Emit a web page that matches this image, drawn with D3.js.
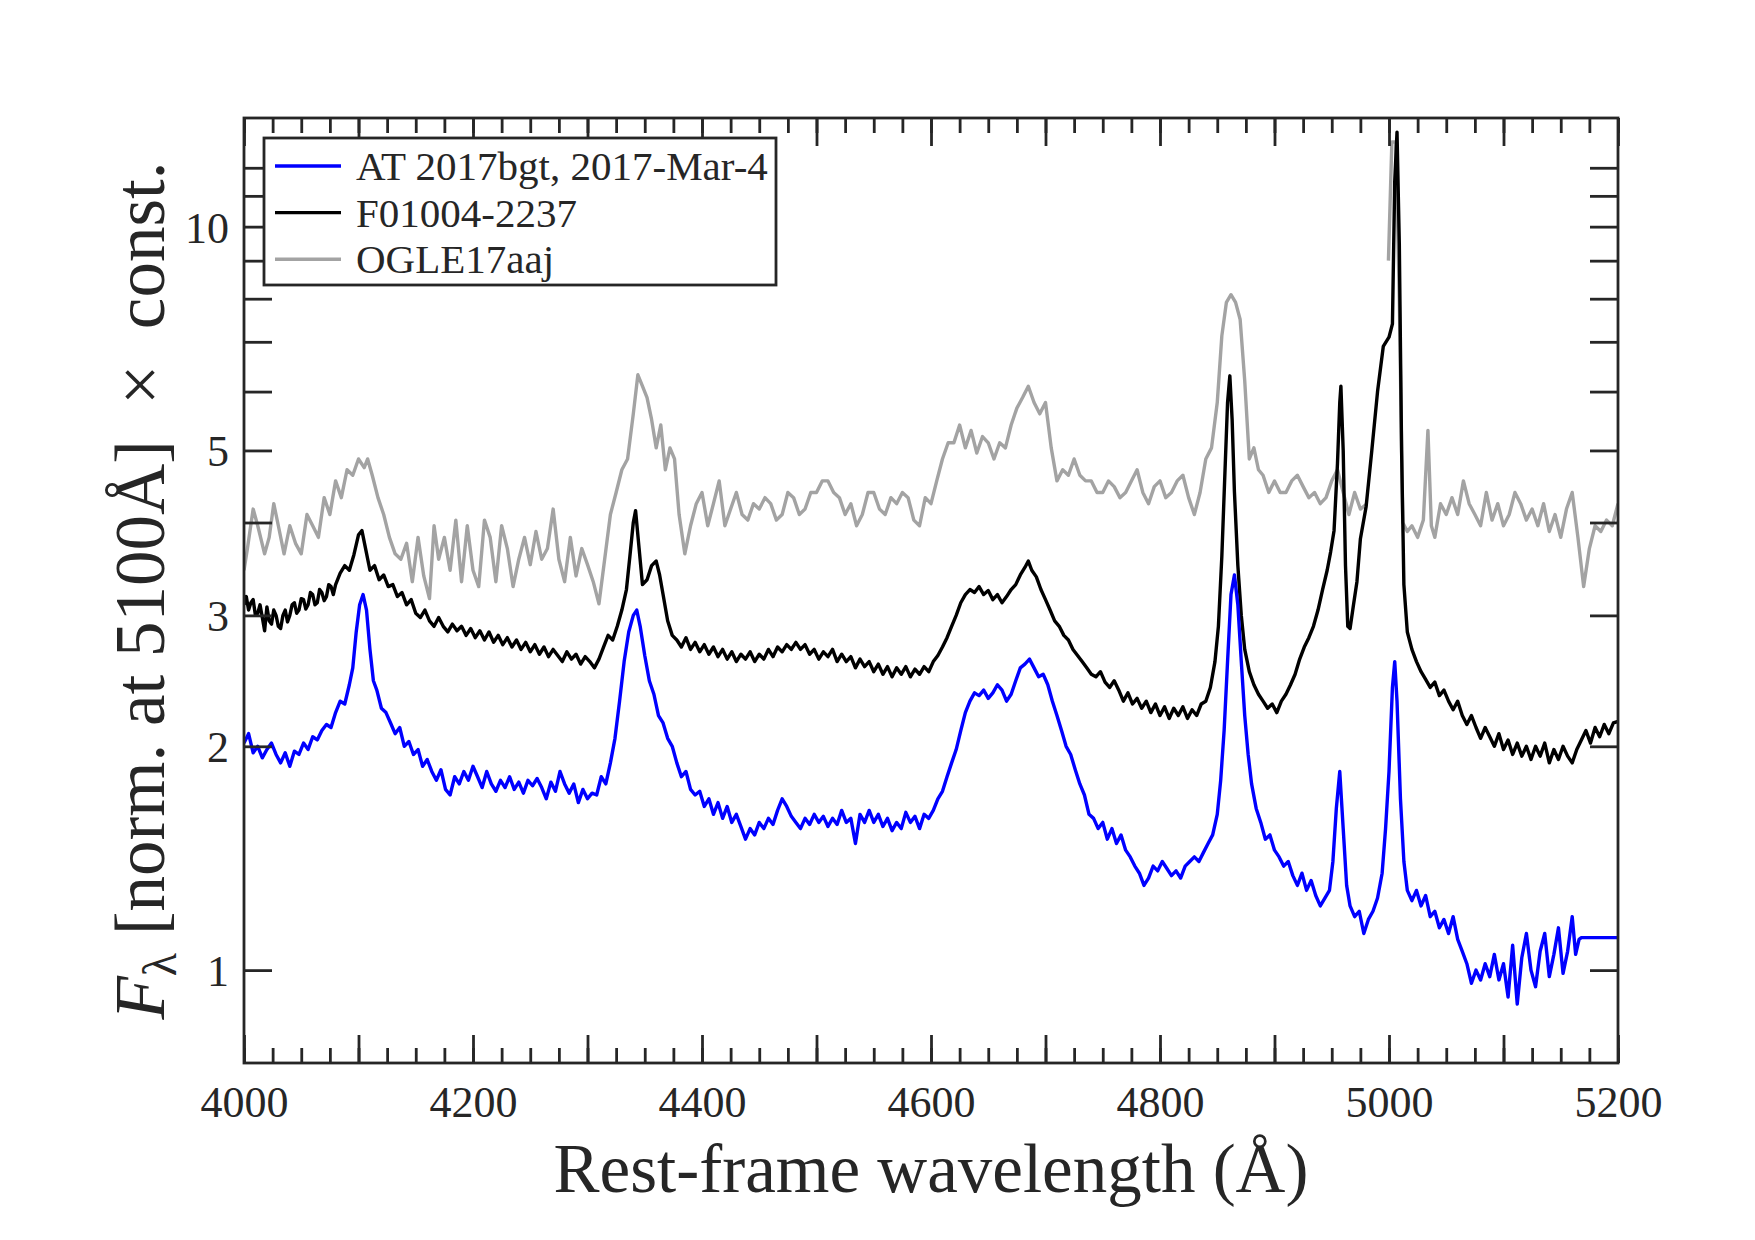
<!DOCTYPE html>
<html>
<head>
<meta charset="utf-8">
<script src="https://cdn.jsdelivr.net/npm/d3@7"></script>
<style>
  body { margin: 0; background: #fff; }
  svg text { font-family: "Liberation Serif", "Times New Roman", serif; fill: #262626; }
</style>
</head>
<body>
<div id="chart"></div>
<script>
// legend names, in plotting order of the legend
var seriesNames = ["AT 2017bgt, 2017-Mar-4", "F01004-2237", "OGLE17aaj"];

// x ticks
var xMinorTicks = d3.range(4000, 5201, 25);
var xMajorTicks = d3.range(4000, 5201, 100);
var xTickLabels = [4000, 4200, 4400, 4600, 4800, 5000, 5200];

// y ticks (log axis)
var yTicks = [1, 2, 3, 4, 5, 6, 7, 8, 9, 10, 11, 12];
var yTickLabels = [1, 2, 3, 5, 10];

// AT 2017bgt spectrum [wavelength, flux]
var atSpec = [[4000,2.02],[4004,2.08],[4008,1.96],[4012,2.0],[4016,1.93],[4020,1.98],[4024,2.02],[4028,1.95],[4032,1.9],[4036,1.96],[4040,1.88],[4044,1.97],[4048,1.95],[4052,2.02],[4056,1.98],[4060,2.06],[4064,2.04],[4068,2.1],[4072,2.14],[4076,2.12],[4080,2.22],[4084,2.3],[4088,2.28],[4092,2.42],[4095,2.55],[4098,2.85],[4101,3.1],[4104,3.2],[4107,3.05],[4110,2.7],[4113,2.45],[4116,2.38],[4120,2.25],[4124,2.22],[4128,2.15],[4132,2.08],[4136,2.12],[4140,2.0],[4144,2.03],[4148,1.95],[4152,1.98],[4156,1.88],[4160,1.92],[4164,1.85],[4168,1.8],[4172,1.86],[4176,1.75],[4180,1.72],[4184,1.82],[4188,1.78],[4192,1.85],[4196,1.8],[4200,1.88],[4204,1.82],[4208,1.76],[4212,1.85],[4216,1.78],[4220,1.74],[4224,1.8],[4228,1.76],[4232,1.82],[4236,1.75],[4240,1.79],[4244,1.73],[4248,1.8],[4252,1.77],[4256,1.81],[4260,1.76],[4264,1.7],[4268,1.79],[4272,1.74],[4276,1.85],[4280,1.78],[4284,1.73],[4288,1.78],[4292,1.68],[4296,1.75],[4300,1.7],[4304,1.73],[4308,1.72],[4312,1.82],[4316,1.78],[4320,1.9],[4324,2.05],[4328,2.3],[4332,2.6],[4336,2.85],[4340,3.0],[4343,3.05],[4346,2.9],[4350,2.65],[4354,2.45],[4358,2.35],[4362,2.2],[4366,2.15],[4370,2.05],[4374,2.0],[4378,1.9],[4382,1.82],[4386,1.85],[4390,1.75],[4394,1.72],[4398,1.74],[4402,1.66],[4406,1.7],[4410,1.62],[4414,1.68],[4418,1.6],[4422,1.66],[4426,1.58],[4430,1.62],[4434,1.56],[4438,1.5],[4442,1.55],[4446,1.52],[4450,1.58],[4454,1.55],[4458,1.6],[4462,1.57],[4466,1.64],[4470,1.7],[4474,1.66],[4478,1.61],[4482,1.58],[4486,1.55],[4490,1.6],[4494,1.57],[4498,1.62],[4502,1.58],[4506,1.61],[4510,1.56],[4514,1.6],[4518,1.57],[4522,1.64],[4526,1.58],[4530,1.6],[4534,1.48],[4538,1.62],[4542,1.58],[4546,1.64],[4550,1.58],[4554,1.62],[4558,1.56],[4562,1.6],[4566,1.54],[4570,1.58],[4574,1.55],[4578,1.63],[4582,1.58],[4586,1.61],[4590,1.55],[4594,1.62],[4598,1.6],[4602,1.64],[4606,1.7],[4610,1.74],[4614,1.82],[4618,1.9],[4622,1.98],[4626,2.1],[4630,2.22],[4634,2.3],[4638,2.36],[4642,2.34],[4646,2.38],[4650,2.32],[4654,2.36],[4658,2.42],[4662,2.38],[4666,2.3],[4670,2.35],[4674,2.45],[4678,2.55],[4682,2.58],[4686,2.62],[4690,2.55],[4694,2.48],[4698,2.5],[4702,2.42],[4706,2.3],[4710,2.2],[4714,2.1],[4718,2.0],[4722,1.95],[4726,1.86],[4730,1.78],[4734,1.72],[4738,1.62],[4742,1.6],[4746,1.55],[4750,1.58],[4754,1.5],[4758,1.55],[4762,1.48],[4766,1.52],[4770,1.45],[4774,1.42],[4778,1.38],[4782,1.35],[4786,1.3],[4790,1.33],[4794,1.38],[4798,1.36],[4802,1.4],[4806,1.37],[4810,1.34],[4814,1.36],[4818,1.33],[4822,1.38],[4826,1.4],[4830,1.42],[4834,1.4],[4838,1.44],[4842,1.48],[4846,1.52],[4850,1.62],[4853,1.8],[4856,2.1],[4859,2.6],[4862,3.2],[4865,3.4],[4868,3.1],[4871,2.6],[4874,2.2],[4877,1.95],[4880,1.78],[4884,1.65],[4888,1.58],[4892,1.5],[4896,1.52],[4900,1.45],[4904,1.42],[4908,1.38],[4912,1.4],[4916,1.34],[4920,1.3],[4924,1.35],[4928,1.28],[4932,1.32],[4936,1.26],[4940,1.22],[4944,1.25],[4948,1.28],[4951,1.4],[4954,1.65],[4957,1.85],[4960,1.55],[4963,1.3],[4966,1.22],[4970,1.18],[4974,1.2],[4978,1.12],[4982,1.17],[4986,1.2],[4990,1.25],[4994,1.35],[4997,1.55],[5000,1.85],[5003,2.4],[5005,2.6],[5007,2.3],[5010,1.7],[5013,1.4],[5016,1.28],[5020,1.24],[5024,1.28],[5028,1.22],[5032,1.26],[5036,1.18],[5040,1.2],[5044,1.14],[5048,1.17],[5052,1.12],[5056,1.18],[5060,1.1],[5064,1.06],[5068,1.02],[5072,0.96],[5076,1.0],[5080,0.97],[5084,1.02],[5088,0.98],[5092,1.05],[5096,0.97],[5100,1.02],[5104,0.92],[5108,1.08],[5112,0.9],[5116,1.04],[5120,1.12],[5124,1.0],[5128,0.95],[5132,1.06],[5136,1.12],[5140,0.98],[5144,1.05],[5148,1.14],[5152,0.99],[5156,1.06],[5160,1.18],[5163,1.05],[5166,1.1],[5168,1.106],[5200,1.106]];

// F01004-2237 spectrum
var fSpec = [[4000,3.1],[4002,3.18],[4004,3.05],[4006,3.12],[4008,3.15],[4010,3.0],[4012,3.02],[4014,3.1],[4016,2.98],[4018,2.86],[4020,3.08],[4022,2.95],[4024,2.92],[4026,3.05],[4028,3.0],[4030,2.9],[4032,2.88],[4034,3.0],[4036,3.05],[4038,2.94],[4040,3.0],[4042,3.1],[4044,3.12],[4046,3.02],[4048,3.05],[4050,3.16],[4052,3.15],[4054,3.06],[4056,3.1],[4058,3.22],[4060,3.2],[4062,3.1],[4064,3.12],[4066,3.25],[4068,3.22],[4070,3.14],[4072,3.18],[4074,3.3],[4076,3.28],[4078,3.2],[4080,3.3],[4084,3.42],[4088,3.5],[4092,3.45],[4096,3.62],[4100,3.85],[4103,3.9],[4106,3.7],[4110,3.45],[4114,3.5],[4118,3.35],[4122,3.4],[4126,3.28],[4130,3.3],[4134,3.18],[4138,3.22],[4142,3.1],[4146,3.15],[4150,3.02],[4154,2.98],[4158,3.05],[4162,2.95],[4166,2.9],[4170,2.98],[4174,2.9],[4178,2.85],[4182,2.92],[4186,2.86],[4190,2.9],[4194,2.82],[4198,2.88],[4202,2.8],[4206,2.86],[4210,2.78],[4214,2.85],[4218,2.76],[4222,2.82],[4226,2.74],[4230,2.8],[4234,2.72],[4238,2.78],[4242,2.7],[4246,2.76],[4250,2.68],[4254,2.74],[4258,2.66],[4262,2.72],[4266,2.64],[4270,2.7],[4274,2.65],[4278,2.6],[4282,2.68],[4286,2.62],[4290,2.66],[4294,2.58],[4298,2.64],[4302,2.6],[4306,2.55],[4310,2.62],[4314,2.72],[4318,2.82],[4322,2.78],[4326,2.9],[4330,3.05],[4334,3.25],[4337,3.6],[4340,4.0],[4342,4.15],[4345,3.7],[4348,3.3],[4352,3.35],[4356,3.5],[4360,3.55],[4363,3.4],[4366,3.2],[4370,2.95],[4374,2.82],[4378,2.78],[4382,2.72],[4386,2.8],[4390,2.7],[4394,2.76],[4398,2.68],[4402,2.74],[4406,2.66],[4410,2.72],[4414,2.64],[4418,2.7],[4422,2.62],[4426,2.68],[4430,2.6],[4434,2.66],[4438,2.62],[4442,2.68],[4446,2.6],[4450,2.66],[4454,2.62],[4458,2.7],[4462,2.64],[4466,2.72],[4470,2.68],[4474,2.74],[4478,2.7],[4482,2.76],[4486,2.7],[4490,2.74],[4494,2.66],[4498,2.7],[4502,2.62],[4506,2.68],[4510,2.64],[4514,2.7],[4518,2.6],[4522,2.66],[4526,2.6],[4530,2.64],[4534,2.55],[4538,2.62],[4542,2.56],[4546,2.6],[4550,2.52],[4554,2.58],[4558,2.5],[4562,2.56],[4566,2.48],[4570,2.55],[4574,2.5],[4578,2.56],[4582,2.48],[4586,2.54],[4590,2.5],[4594,2.56],[4598,2.52],[4602,2.6],[4606,2.65],[4610,2.72],[4614,2.8],[4618,2.9],[4622,3.0],[4626,3.12],[4630,3.2],[4634,3.25],[4638,3.22],[4642,3.28],[4646,3.2],[4650,3.24],[4654,3.15],[4658,3.2],[4662,3.12],[4666,3.18],[4670,3.25],[4674,3.3],[4678,3.4],[4682,3.48],[4685,3.55],[4688,3.45],[4692,3.38],[4696,3.25],[4700,3.15],[4704,3.05],[4708,2.95],[4712,2.9],[4716,2.82],[4720,2.78],[4724,2.7],[4728,2.65],[4732,2.6],[4736,2.55],[4740,2.5],[4744,2.48],[4748,2.52],[4752,2.44],[4756,2.4],[4760,2.45],[4764,2.38],[4768,2.3],[4772,2.36],[4776,2.28],[4780,2.32],[4784,2.25],[4788,2.3],[4792,2.22],[4796,2.28],[4800,2.2],[4804,2.26],[4808,2.18],[4812,2.25],[4816,2.2],[4820,2.26],[4824,2.18],[4828,2.24],[4832,2.2],[4836,2.28],[4840,2.3],[4844,2.4],[4848,2.6],[4851,2.9],[4854,3.6],[4857,4.8],[4859,5.8],[4861,6.3],[4863,5.5],[4865,4.4],[4868,3.5],[4871,3.0],[4874,2.7],[4878,2.52],[4882,2.42],[4886,2.35],[4890,2.3],[4894,2.25],[4898,2.28],[4902,2.22],[4906,2.3],[4910,2.35],[4914,2.42],[4918,2.5],[4922,2.62],[4926,2.72],[4930,2.8],[4934,2.9],[4938,3.05],[4942,3.25],[4946,3.45],[4949,3.65],[4952,3.9],[4955,4.8],[4957,5.8],[4958,6.1],[4960,5.0],[4962,3.5],[4964,2.9],[4966,2.88],[4969,3.1],[4972,3.33],[4975,3.8],[4980,4.2],[4985,5.0],[4990,6.0],[4995,6.9],[5000,7.1],[5003,7.4],[5005,11.5],[5007,13.4],[5009,9.5],[5011,5.0],[5013,3.3],[5016,2.85],[5020,2.7],[5024,2.6],[5028,2.52],[5032,2.46],[5036,2.4],[5040,2.44],[5044,2.34],[5048,2.38],[5052,2.3],[5056,2.24],[5060,2.3],[5064,2.2],[5068,2.14],[5072,2.2],[5076,2.12],[5080,2.05],[5084,2.12],[5088,2.06],[5092,2.0],[5096,2.08],[5100,1.98],[5104,2.04],[5108,1.95],[5112,2.02],[5116,1.94],[5120,2.0],[5124,1.92],[5128,2.0],[5132,1.94],[5136,2.02],[5140,1.9],[5144,1.98],[5148,1.92],[5152,2.0],[5156,1.94],[5160,1.9],[5164,1.98],[5168,2.04],[5172,2.1],[5176,2.02],[5180,2.12],[5184,2.06],[5188,2.14],[5192,2.08],[5196,2.15],[5200,2.16]];

// OGLE17aaj spectrum (null = gap)
var ogleSpec = [[4000,3.45],[4003,3.69],[4008,4.17],[4012,3.96],[4018,3.63],[4022,3.82],[4026,4.24],[4030,3.96],[4035,3.63],[4040,3.96],[4045,3.75],[4050,3.63],[4055,4.1],[4060,3.96],[4065,3.82],[4070,4.32],[4075,4.1],[4080,4.55],[4085,4.32],[4090,4.71],[4095,4.63],[4100,4.87],[4105,4.74],[4108,4.87],[4112,4.63],[4117,4.32],[4122,4.1],[4127,3.82],[4132,3.63],[4137,3.57],[4142,3.75],[4147,3.33],[4152,3.82],[4157,3.39],[4162,3.16],[4166,3.96],[4170,3.57],[4175,3.82],[4180,3.45],[4185,4.03],[4190,3.33],[4195,3.96],[4200,3.45],[4205,3.28],[4210,4.03],[4215,3.82],[4220,3.33],[4225,3.96],[4230,3.69],[4235,3.28],[4240,3.57],[4245,3.82],[4250,3.51],[4255,3.89],[4260,3.57],[4265,3.69],[4270,4.17],[4275,3.57],[4280,3.33],[4285,3.82],[4290,3.39],[4295,3.69],[4300,3.51],[4305,3.33],[4310,3.11],[4315,3.57],[4320,4.1],[4325,4.39],[4330,4.71],[4335,4.87],[4340,5.6],[4344,6.32],[4348,6.1],[4352,5.89],[4356,5.5],[4360,5.04],[4364,5.41],[4368,4.71],[4372,5.04],[4376,4.87],[4380,4.1],[4385,3.63],[4390,3.96],[4395,4.24],[4400,4.39],[4405,3.96],[4410,4.24],[4415,4.55],[4420,3.96],[4425,4.17],[4430,4.39],[4435,4.1],[4440,4.03],[4445,4.24],[4450,4.17],[4455,4.32],[4460,4.24],[4465,4.03],[4470,4.1],[4475,4.39],[4480,4.32],[4485,4.1],[4490,4.17],[4495,4.39],[4500,4.39],[4505,4.55],[4510,4.55],[4515,4.39],[4520,4.32],[4525,4.1],[4530,4.24],[4535,3.96],[4540,4.1],[4545,4.39],[4550,4.39],[4555,4.17],[4560,4.1],[4565,4.32],[4570,4.24],[4575,4.39],[4580,4.32],[4585,4.03],[4590,3.96],[4595,4.32],[4600,4.24],[4605,4.55],[4610,4.87],[4615,5.12],[4620,5.12],[4625,5.41],[4630,5.04],[4635,5.32],[4640,4.96],[4645,5.22],[4650,5.12],[4655,4.87],[4660,5.12],[4665,5.04],[4670,5.41],[4675,5.7],[4680,5.89],[4685,6.1],[4690,5.8],[4695,5.6],[4700,5.8],[4705,5.04],[4710,4.55],[4715,4.71],[4720,4.63],[4725,4.87],[4730,4.63],[4735,4.55],[4740,4.55],[4745,4.39],[4750,4.39],[4755,4.55],[4760,4.47],[4765,4.32],[4770,4.39],[4775,4.55],[4780,4.71],[4785,4.39],[4790,4.24],[4795,4.47],[4800,4.55],[4805,4.32],[4810,4.39],[4815,4.55],[4820,4.63],[4825,4.32],[4830,4.1],[4835,4.39],[4840,4.87],[4845,5.04],[4850,5.8],[4854,7.13],[4858,7.91],[4862,8.1],[4866,7.91],[4870,7.5],[4874,6.2],[4878,4.87],[4882,5.04],[4886,4.71],[4890,4.63],[4895,4.39],[4900,4.55],[4905,4.39],[4910,4.39],[4915,4.55],[4920,4.63],[4925,4.47],[4930,4.32],[4935,4.39],[4940,4.24],[4945,4.32],[4950,4.55],[4955,4.71],[4960,4.39],[4965,4.1],[4970,4.39],[4975,4.17],[4981,4.24],[4990,null],[4999.5,9.0],[5002.5,13.0],[5006,13.0],[5009,8.0],[5012,4.0],[5016,3.89],[5020,3.96],[5025,3.82],[5030,4.03],[5034,5.32],[5037,3.96],[5040,3.82],[5045,4.24],[5050,4.1],[5055,4.32],[5060,4.1],[5065,4.55],[5070,4.24],[5075,4.1],[5080,3.96],[5085,4.39],[5090,4.03],[5095,4.24],[5100,3.96],[5105,4.1],[5110,4.39],[5115,4.24],[5120,4.03],[5125,4.17],[5130,3.96],[5135,4.24],[5140,3.89],[5145,4.1],[5150,3.82],[5155,4.17],[5160,4.39],[5165,3.82],[5170,3.28],[5175,3.69],[5180,3.96],[5185,3.89],[5190,4.03],[5195,3.96],[5200,4.24]];

function init() {
    var w = 1755;
    var h = 1240;
    var left = 244, right = 1618, top = 118, bottom = 1063;

    var xScale = d3.scaleLinear().domain([4000, 5200]).range([left, right]);
    var yScale = d3.scaleLog().domain([0.75, 14]).range([bottom, top]);

    var svg = d3.select("#chart")
        .append("svg")
        .attr("width", w)
        .attr("height", h);

    svg.append("defs").append("clipPath")
        .attr("id", "plotClip")
        .append("rect")
        .attr("x", left).attr("y", top)
        .attr("width", right - left).attr("height", bottom - top);

    // Spectra (gray first so black sits on top)
    var line = d3.line()
        .defined(function(d) { return d[1] != null; })
        .x(function(d) { return xScale(d[0]); })
        .y(function(d) { return yScale(d[1]); });

    var plotData = [
        { data: ogleSpec, color: "#a3a3a3" },
        { data: fSpec, color: "#000000" },
        { data: atSpec, color: "#0000ff" }
    ];

    svg.append("g")
        .attr("clip-path", "url(#plotClip)")
        .selectAll("path")
        .data(plotData)
        .enter()
        .append("path")
        .attr("d", function(d) { return line(d.data); })
        .attr("fill", "none")
        .attr("stroke", function(d) { return d.color; })
        .attr("stroke-width", 3.4)
        .attr("stroke-linejoin", "round");

    var axisColor = "#262626";

    function styleAxis(g) {
        g.select(".domain").remove();
        g.selectAll(".tick line").attr("stroke", axisColor).attr("stroke-width", 2.8);
        g.selectAll(".tick text")
            .attr("font-size", 44)
            .attr("fill", axisColor)
            .style("font-family", "'Liberation Serif', 'Times New Roman', serif");
    }

    // Bottom axis: minor then major ticks with labels
    svg.append("g")
        .attr("transform", "translate(0," + bottom + ")")
        .call(d3.axisBottom(xScale).tickValues(xMinorTicks).tickSize(-15).tickSizeOuter(0).tickFormat(""))
        .call(styleAxis);

    svg.append("g")
        .attr("transform", "translate(0," + bottom + ")")
        .call(d3.axisBottom(xScale).tickValues(xMajorTicks).tickSize(-28).tickSizeOuter(0)
            .tickFormat(function(d) { return xTickLabels.indexOf(d) >= 0 ? d : ""; }))
        .call(styleAxis)
        .call(function(g) {
            g.selectAll(".tick text").attr("y", 54).attr("dy", 0);
        });

    // Top axis ticks (no labels)
    svg.append("g")
        .attr("transform", "translate(0," + top + ")")
        .call(d3.axisTop(xScale).tickValues(xMinorTicks).tickSize(-15).tickSizeOuter(0).tickFormat(""))
        .call(styleAxis);
    svg.append("g")
        .attr("transform", "translate(0," + top + ")")
        .call(d3.axisTop(xScale).tickValues(xMajorTicks).tickSize(-28).tickSizeOuter(0).tickFormat(""))
        .call(styleAxis);

    // Left axis with labels
    svg.append("g")
        .attr("transform", "translate(" + left + ",0)")
        .call(d3.axisLeft(yScale).tickValues(yTicks).tickSize(-28).tickSizeOuter(0).tickPadding(15)
            .tickFormat(function(d) { return yTickLabels.indexOf(d) >= 0 ? d : ""; }))
        .call(styleAxis)
        .call(function(g) {
            g.selectAll(".tick text").attr("dy", "0.35em");
        });

    // Right axis ticks
    svg.append("g")
        .attr("transform", "translate(" + right + ",0)")
        .call(d3.axisRight(yScale).tickValues(yTicks).tickSize(-28).tickSizeOuter(0).tickFormat(""))
        .call(styleAxis);

    // Frame
    svg.append("rect")
        .attr("x", left).attr("y", top)
        .attr("width", right - left).attr("height", bottom - top)
        .attr("fill", "none")
        .attr("stroke", axisColor)
        .attr("stroke-width", 2.8);

    // Legend
    var legend = svg.append("g").attr("transform", "translate(264,138)");
    legend.append("rect")
        .attr("width", 512).attr("height", 147)
        .attr("fill", "#fff")
        .attr("stroke", axisColor)
        .attr("stroke-width", 2.8);

    var legendColors = ["#0000ff", "#000000", "#a3a3a3"];
    seriesNames.forEach(function(name, i) {
        var cy = 28 + i * 46.6;
        legend.append("line")
            .attr("x1", 11).attr("x2", 77)
            .attr("y1", cy).attr("y2", cy)
            .attr("stroke", legendColors[i])
            .attr("stroke-width", 3.4);
        legend.append("text")
            .attr("x", 92).attr("y", cy + 14)
            .attr("font-size", 41)
            .attr("fill", "#000")
            .text(name);
    });

    // Axis titles
    svg.append("text")
        .attr("x", (left + right) / 2)
        .attr("y", 1192)
        .attr("text-anchor", "middle")
        .attr("font-size", 69)
        .text("Rest-frame wavelength (\u00C5)");

    var yTitle = svg.append("text")
        .attr("transform", "translate(164," + (top + bottom) / 2 + ") rotate(-90)")
        .attr("text-anchor", "middle")
        .attr("font-size", 71);
    yTitle.append("tspan").attr("font-style", "italic").text("F");
    yTitle.append("tspan").attr("font-size", 48).attr("dy", 12).text("\u03BB");
    yTitle.append("tspan").attr("dy", -12).text(" [norm. at 5100\u00C5] \u00A0\u00D7\u00A0 const.");
}

window.onload = init;
</script>
</body>
</html>
